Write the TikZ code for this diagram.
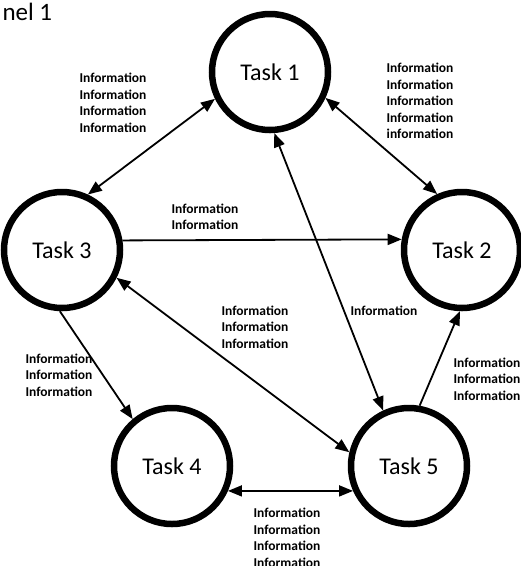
\documentclass[tikz,border=0pt]{standalone}
\usepackage{fontspec}
\setmainfont{Carlito}
\usetikzlibrary{arrows.meta}

\begin{document}
\begin{tikzpicture}[x=1pt, y=-1pt,
    task/.style={circle, draw, line width=6.5pt, minimum size=116pt,
                 inner sep=0pt, font=\fontsize{24}{28}\selectfont},
    info/.style={align=center, inner sep=0pt,
                 font=\bfseries\fontsize{13.5}{16.5}\selectfont},
    flow/.style={line width=1.8pt, -{Triangle[length=14pt, width=11pt]}},
    twoway/.style={line width=1.8pt,
                   {Triangle[length=14pt, width=11pt]}-{Triangle[length=14pt, width=11pt]}}]
  \useasboundingbox (0,0) rectangle (521,566);
  \clip (0,0) rectangle (521,566);

  \node[anchor=base west, font=\fontsize{25}{30}\selectfont] (title) at (-1,20) {nel 1};

  % tasks
  \node[task] (t1) at (270,72)  {Task 1};
  \node[task] (t2) at (462,250) {Task 2};
  \node[task] (t3) at (62,250)  {Task 3};
  \node[task] (t4) at (172,466) {Task 4};
  \node[task] (t5) at (409,466) {Task 5};

  % connectors: from/angle/to/angle/style
  \foreach \from/\fa/\to/\ta/\kind in {%
      t1/206/t3/65/twoway,   t1/335/t2/114/twoway,
      t1/274/t5/115/twoway,  t3/9.5/t2/170.5/flow,
      t3/333/t5/167/twoway,  t3/268/t4/130/flow,
      t5/80/t2/268/flow,     t4/336/t5/204/twoway}
  {
    \draw[\kind] (\from.\fa) -- (\to.\ta);
  }

  % information labels
  \node[info] (info13) at (113,103) {Information\\Information\\Information\\Information};
  \node[info] (info12) at (420,101) {Information\\Information\\Information\\Information\\information};
  \node[info] (info32) at (205,217) {Information\\Information};
  \node[info] (info35) at (255,327) {Information\\Information\\Information};
  \node[info] (info15) at (384,311) {Information};
  \node[info] (info34) at (59,375)  {Information\\Information\\Information};
  \node[info] (info52) at (487,379) {Information\\Information\\Information};
  \node[info] (info45) at (287,538) {Information\\Information\\Information\\Information};
\end{tikzpicture}
\end{document}
